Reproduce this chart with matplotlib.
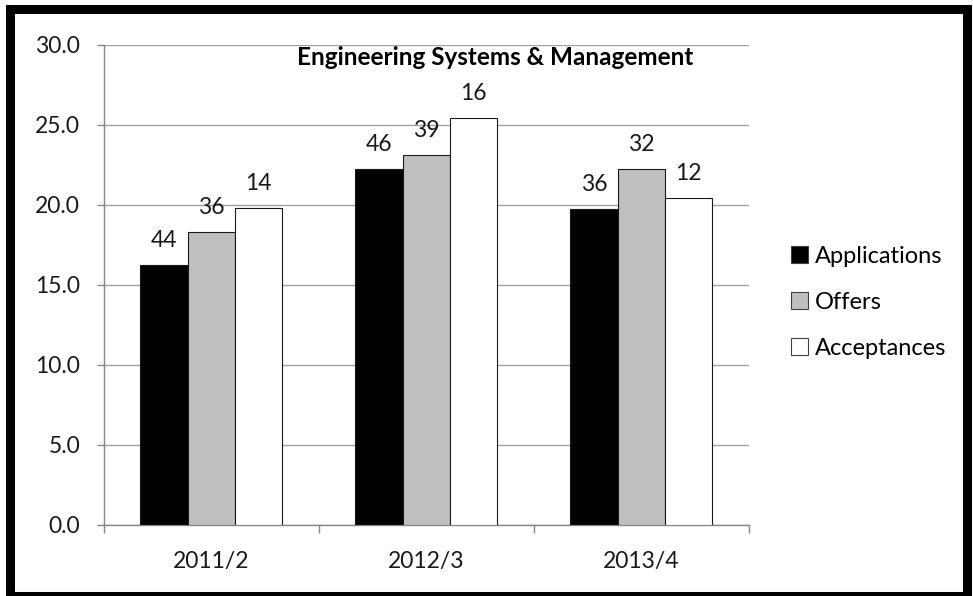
import matplotlib
matplotlib.use('Agg')
import matplotlib.pyplot as plt
import numpy as np
from matplotlib.patches import Rectangle, Patch

plt.rcParams['font.family'] = ['Lato', 'DejaVu Sans']

# academic years on the x axis
years = ['2011/2', '2012/3', '2013/4']
series = ['Applications', 'Offers', 'Acceptances']

# bar heights per series
applications = [16.2, 22.2, 19.7]
offers = [18.3, 23.1, 22.2]
acceptances = [19.8, 25.4, 20.4]

# counts printed above each bar
applications_n = [44, 46, 36]
offers_n = [36, 39, 32]
acceptances_n = [14, 16, 12]

y_ticks = [0, 5, 10, 15, 20, 25, 30]

W, H = 973, 596
fig = plt.figure(figsize=(W / 100, H / 100), dpi=100)
ax = fig.add_axes([103.7 / W, 1 - 524.7 / H, (749 - 103.7) / W, (524.7 - 44.5) / H])

grey_axis = '#868686'
fs = 16.5
x = np.arange(len(years))
width = 0.22
colors = ['#000000', '#BFBFBF', '#FFFFFF']
heights = [applications, offers, acceptances]
counts = [applications_n, offers_n, acceptances_n]

for i, (h, n, c) in enumerate(zip(heights, counts, colors)):
    pos = x + (i - 1) * width
    ax.bar(pos, h, width, color=c, edgecolor='#1a1a1a', linewidth=0.8, zorder=3)
    for px, py, label in zip(pos, h, n):
        ax.annotate(str(label), (px, py), xytext=(0, 13), textcoords='offset points',
                    ha='center', va='baseline', fontsize=fs, color='#1a1a1a')

ax.set_xlim(-0.5, len(years) - 0.5)
ax.set_ylim(0, 30)
ax.set_yticks(y_ticks)
ax.set_yticklabels([f'{v:.1f}' for v in y_ticks])
ax.yaxis.grid(True, color='#a0a0a0', linewidth=1.0, zorder=0)
ax.set_axisbelow(True)

ax.set_xticks(x)
ax.set_xticklabels(years)
ax.set_xticks(np.arange(len(years) + 1) - 0.5, minor=True)
ax.tick_params(axis='x', which='major', length=0, pad=19, labelsize=fs, labelcolor='#1a1a1a')
ax.tick_params(axis='x', which='minor', length=6, width=1.0, color=grey_axis)
ax.tick_params(axis='y', length=5, width=1.0, color=grey_axis, pad=12, labelsize=fs, labelcolor='#1a1a1a')

for side in ['top', 'right']:
    ax.spines[side].set_visible(False)
for side in ['left', 'bottom']:
    ax.spines[side].set_color(grey_axis)
    ax.spines[side].set_linewidth(1.0)

fig.text(495 / W, 1 - 65 / H, 'Engineering Systems & Management', ha='center', va='baseline',
         fontsize=17.5, fontweight='bold', color='#000000')

handles = [Patch(facecolor=c, edgecolor='#404040', linewidth=0.8) for c in colors]
fig.legend(handles, series, loc='upper left', bbox_to_anchor=(791 / W, 1 - 246 / H),
           frameon=False, fontsize=17, handlelength=0.7, handleheight=0.7,
           handletextpad=0.3, labelspacing=1.05, borderaxespad=0, borderpad=0)

# heavy black frame around the whole chart
fig.patches.append(Rectangle((9.5 / W, 0.0), (967 - 9.5) / W, 1 - 9 / H - 0.0,
                             transform=fig.transFigure, fill=False,
                             edgecolor='black', linewidth=6.5))

fig.savefig('out.png', dpi=100)
